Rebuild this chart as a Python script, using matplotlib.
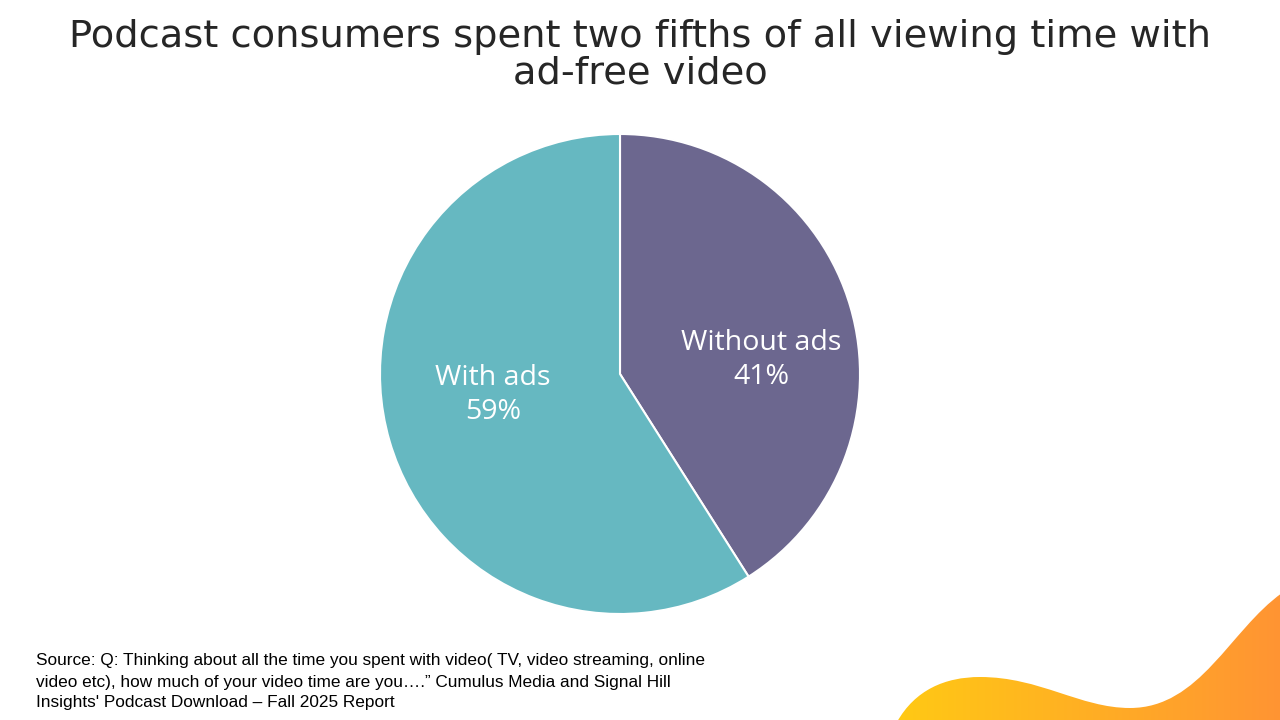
import matplotlib
matplotlib.use("Agg")
import matplotlib.pyplot as plt
import numpy as np
from matplotlib.path import Path
from matplotlib.patches import PathPatch

# Data
labels = ["Without ads", "With ads"]
shares = [41, 59]
colors = ["#6C678F", "#66B8C1"]

title = "Podcast consumers spent two fifths of all viewing time with\nad-free video"
source = ("Source: Q: Thinking about all the time you spent with video( TV, video streaming, online\n"
          "video etc), how much of your video time are you\u2026.\u201d Cumulus Media and Signal Hill\n"
          "Insights' Podcast Download \u2013 Fall 2025 Report")

W, H = 1280, 720
fig = plt.figure(figsize=(12.8, 7.2), dpi=100)
fig.patch.set_facecolor("white")

# Background axes in pixel coords for the decorative wave
bg = fig.add_axes([0, 0, 1, 1], zorder=0)
bg.set_xlim(0, W)
bg.set_ylim(H, 0)
bg.axis("off")

verts = [(897, 722), (915, 690), (945, 677), (980, 677),
         (1040, 677), (1080, 708), (1130, 708),
         (1200, 708), (1230, 630), (1282, 593),
         (1282, 722), (897, 722)]
codes = [Path.MOVETO, Path.CURVE4, Path.CURVE4, Path.CURVE4,
         Path.CURVE4, Path.CURVE4, Path.CURVE4,
         Path.CURVE4, Path.CURVE4, Path.CURVE4,
         Path.LINETO, Path.CLOSEPOLY]
wave = PathPatch(Path(verts, codes), facecolor="none", edgecolor="none")
bg.add_patch(wave)
grad = np.linspace(0, 1, 256).reshape(1, -1)
cmap = matplotlib.colors.LinearSegmentedColormap.from_list("wave", ["#FFCA14", "#FF9433"])
img = bg.imshow(grad, extent=[890, 1282, 722, 585], cmap=cmap, aspect="auto")
img.set_clip_path(wave)
bg.set_xlim(0, W)
bg.set_ylim(H, 0)

# Pie
ax = fig.add_axes([380 / W, 106 / H, 480 / W, 480 / H], zorder=1)
wedges, _ = ax.pie(shares, colors=colors, startangle=90, counterclock=False,
                   radius=1, wedgeprops=dict(edgecolor="white", linewidth=1.5))
ax.set_xlim(-1, 1)
ax.set_ylim(-1, 1)
ax.set_aspect("equal")

label_pos = [(0.588, 0.058), (-0.529, -0.088)]
for name, val, (lx, ly) in zip(labels, shares, label_pos):
    ax.text(lx, ly, f"{name}\n{val}%", ha="center", va="center", color="white",
            fontsize=20.5, family=["Open Sans", "DejaVu Sans"], linespacing=1.25)

fig.text(0.5, 1 - 55 / H, title, ha="center", va="center", fontsize=27.6,
         color="#262626", family=["DejaVu Sans"], linespacing=1.0)

fig.text(36 / W, 1 - 682 / H, source, ha="left", va="center", fontsize=12.4,
         color="black", family=["Liberation Sans Narrow", "Liberation Sans", "DejaVu Sans"],
         linespacing=1.5)

fig.savefig("out.png", dpi=100)
